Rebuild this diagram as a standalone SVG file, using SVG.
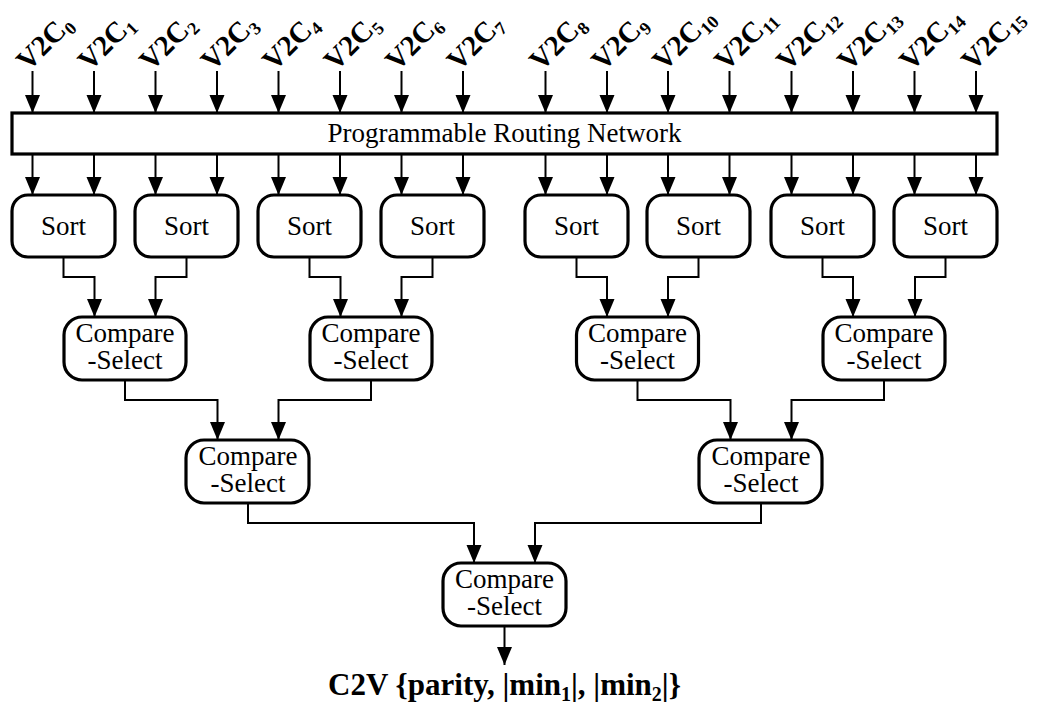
<svg xmlns="http://www.w3.org/2000/svg" width="1040" height="707" viewBox="0 0 1040 707">
  <defs>
    <marker id="arrow" markerUnits="userSpaceOnUse" markerWidth="18" markerHeight="16" refX="18" refY="7.5" orient="auto">
      <path d="M0,0 L18,7.5 L0,15 Z" fill="#000"/>
    </marker>
    <style>
      .box { fill: #fff; stroke: #000; stroke-width: 3.2; }
      .wire { fill: none; stroke: #000; stroke-width: 2; marker-end: url(#arrow); }
      .lbl { font-family: "Liberation Serif", "Times New Roman", serif; font-size: 27px; fill: #000; text-anchor: middle; }
      .in { font-family: "Liberation Serif", "Times New Roman", serif; font-size: 29px; font-weight: bold; fill: #000; }
      .out { font-family: "Liberation Serif", "Times New Roman", serif; font-size: 31px; font-weight: bold; fill: #000; text-anchor: middle; }
    </style>
  </defs>
  <rect width="1040" height="707" fill="#fff"/>

  <!-- input labels, set at 45 degrees above each input wire -->
  <g id="inputs">
    <g transform="translate(28,72) rotate(-45)"><text class="in">V2C<tspan dy="5" font-size="18">0</tspan></text></g>
    <g transform="translate(89.5,72) rotate(-45)"><text class="in">V2C<tspan dy="5" font-size="18">1</tspan></text></g>
    <g transform="translate(151,72) rotate(-45)"><text class="in">V2C<tspan dy="5" font-size="18">2</tspan></text></g>
    <g transform="translate(212.5,72) rotate(-45)"><text class="in">V2C<tspan dy="5" font-size="18">3</tspan></text></g>
    <g transform="translate(274,72) rotate(-45)"><text class="in">V2C<tspan dy="5" font-size="18">4</tspan></text></g>
    <g transform="translate(335.5,72) rotate(-45)"><text class="in">V2C<tspan dy="5" font-size="18">5</tspan></text></g>
    <g transform="translate(397,72) rotate(-45)"><text class="in">V2C<tspan dy="5" font-size="18">6</tspan></text></g>
    <g transform="translate(458.5,72) rotate(-45)"><text class="in">V2C<tspan dy="5" font-size="18">7</tspan></text></g>
    <g transform="translate(541,72) rotate(-45)"><text class="in">V2C<tspan dy="5" font-size="18">8</tspan></text></g>
    <g transform="translate(603,72) rotate(-45)"><text class="in">V2C<tspan dy="5" font-size="18">9</tspan></text></g>
    <g transform="translate(664,72) rotate(-45)"><text class="in">V2C<tspan dy="5" font-size="18">10</tspan></text></g>
    <g transform="translate(726,72) rotate(-45)"><text class="in">V2C<tspan dy="5" font-size="18">11</tspan></text></g>
    <g transform="translate(788,72) rotate(-45)"><text class="in">V2C<tspan dy="5" font-size="18">12</tspan></text></g>
    <g transform="translate(849,72) rotate(-45)"><text class="in">V2C<tspan dy="5" font-size="18">13</tspan></text></g>
    <g transform="translate(911,72) rotate(-45)"><text class="in">V2C<tspan dy="5" font-size="18">14</tspan></text></g>
    <g transform="translate(973,72) rotate(-45)"><text class="in">V2C<tspan dy="5" font-size="18">15</tspan></text></g>
  </g>

  <!-- connectors -->
  <g id="connectors">
    <!-- inputs into the routing network -->
    <path class="wire" d="M32.5,71 V113"/>
    <path class="wire" d="M94,71 V113"/>
    <path class="wire" d="M155.5,71 V113"/>
    <path class="wire" d="M217,71 V113"/>
    <path class="wire" d="M278.5,71 V113"/>
    <path class="wire" d="M340,71 V113"/>
    <path class="wire" d="M401.5,71 V113"/>
    <path class="wire" d="M463,71 V113"/>
    <path class="wire" d="M545.5,71 V113"/>
    <path class="wire" d="M607,71 V113"/>
    <path class="wire" d="M668,71 V113"/>
    <path class="wire" d="M729.5,71 V113"/>
    <path class="wire" d="M791.5,71 V113"/>
    <path class="wire" d="M853,71 V113"/>
    <path class="wire" d="M914.5,71 V113"/>
    <path class="wire" d="M976,71 V113"/>
    <!-- routing network to sorters -->
    <path class="wire" d="M32.5,154 V195"/>
    <path class="wire" d="M94,154 V195"/>
    <path class="wire" d="M155.5,154 V195"/>
    <path class="wire" d="M217,154 V195"/>
    <path class="wire" d="M278.5,154 V195"/>
    <path class="wire" d="M340,154 V195"/>
    <path class="wire" d="M401.5,154 V195"/>
    <path class="wire" d="M463,154 V195"/>
    <path class="wire" d="M545.5,154 V195"/>
    <path class="wire" d="M607,154 V195"/>
    <path class="wire" d="M668,154 V195"/>
    <path class="wire" d="M729.5,154 V195"/>
    <path class="wire" d="M791.5,154 V195"/>
    <path class="wire" d="M853,154 V195"/>
    <path class="wire" d="M914.5,154 V195"/>
    <path class="wire" d="M976,154 V195"/>
    <!-- sorters to first compare-select stage -->
    <path class="wire" d="M63.5,257 V277 H94.5 V317"/>
    <path class="wire" d="M186.5,257 V277 H155.5 V317"/>
    <path class="wire" d="M309.5,257 V277 H340.5 V317"/>
    <path class="wire" d="M432.5,257 V277 H401.5 V317"/>
    <path class="wire" d="M576.5,257 V277 H607 V317"/>
    <path class="wire" d="M698.5,257 V277 H668 V317"/>
    <path class="wire" d="M822.5,257 V277 H853 V317"/>
    <path class="wire" d="M945.5,257 V277 H915 V317"/>
    <!-- first stage to second stage -->
    <path class="wire" d="M125,380 V400 H217.5 V440"/>
    <path class="wire" d="M371,380 V400 H278.5 V440"/>
    <path class="wire" d="M637.5,380 V400 H730.5 V440"/>
    <path class="wire" d="M884,380 V400 H791.5 V440"/>
    <!-- second stage to final stage -->
    <path class="wire" d="M248,503 V523 H474 V563"/>
    <path class="wire" d="M761,503 V523 H535 V563"/>
    <!-- final output -->
    <path class="wire" d="M504.5,626 V665"/>
  </g>

  <!-- routing network -->
  <g id="routing">
    <rect class="box" x="12" y="113" width="985" height="41"/>
    <text class="lbl" x="504.5" y="142">Programmable Routing Network</text>
  </g>

  <!-- sorters -->
  <g id="sort0"><rect class="box" x="12" y="195" width="103" height="62" rx="16"/><text class="lbl" x="63.5" y="235">Sort</text></g>
  <g id="sort1"><rect class="box" x="135" y="195" width="103" height="62" rx="16"/><text class="lbl" x="186.5" y="235">Sort</text></g>
  <g id="sort2"><rect class="box" x="258" y="195" width="103" height="62" rx="16"/><text class="lbl" x="309.5" y="235">Sort</text></g>
  <g id="sort3"><rect class="box" x="381" y="195" width="103" height="62" rx="16"/><text class="lbl" x="432.5" y="235">Sort</text></g>
  <g id="sort4"><rect class="box" x="525" y="195" width="103" height="62" rx="16"/><text class="lbl" x="576.5" y="235">Sort</text></g>
  <g id="sort5"><rect class="box" x="647" y="195" width="103" height="62" rx="16"/><text class="lbl" x="698.5" y="235">Sort</text></g>
  <g id="sort6"><rect class="box" x="771" y="195" width="103" height="62" rx="16"/><text class="lbl" x="822.5" y="235">Sort</text></g>
  <g id="sort7"><rect class="box" x="894" y="195" width="103" height="62" rx="16"/><text class="lbl" x="945.5" y="235">Sort</text></g>

  <!-- compare-select, first stage -->
  <g id="cs1a"><rect class="box" x="64" y="317" width="122" height="63" rx="18"/><text class="lbl" x="125" y="342">Compare</text><text class="lbl" x="125" y="369">-Select</text></g>
  <g id="cs1b"><rect class="box" x="310" y="317" width="122" height="63" rx="18"/><text class="lbl" x="371" y="342">Compare</text><text class="lbl" x="371" y="369">-Select</text></g>
  <g id="cs1c"><rect class="box" x="576.5" y="317" width="122" height="63" rx="18"/><text class="lbl" x="637.5" y="342">Compare</text><text class="lbl" x="637.5" y="369">-Select</text></g>
  <g id="cs1d"><rect class="box" x="823" y="317" width="122" height="63" rx="18"/><text class="lbl" x="884" y="342">Compare</text><text class="lbl" x="884" y="369">-Select</text></g>

  <!-- compare-select, second stage -->
  <g id="cs2a"><rect class="box" x="186" y="440" width="123" height="63" rx="18"/><text class="lbl" x="248" y="465">Compare</text><text class="lbl" x="248" y="492">-Select</text></g>
  <g id="cs2b"><rect class="box" x="699" y="440" width="123" height="63" rx="18"/><text class="lbl" x="761" y="465">Compare</text><text class="lbl" x="761" y="492">-Select</text></g>

  <!-- compare-select, final stage -->
  <g id="cs3"><rect class="box" x="443" y="563" width="123" height="63" rx="18"/><text class="lbl" x="504.5" y="588">Compare</text><text class="lbl" x="504.5" y="615">-Select</text></g>

  <!-- output label -->
  <g id="output">
    <text class="out" x="504.5" y="695">C2V {parity, |min<tspan dy="6" font-size="20">1</tspan><tspan dy="-6">|, |min</tspan><tspan dy="6" font-size="20">2</tspan><tspan dy="-6">|}</tspan></text>
  </g>
</svg>
